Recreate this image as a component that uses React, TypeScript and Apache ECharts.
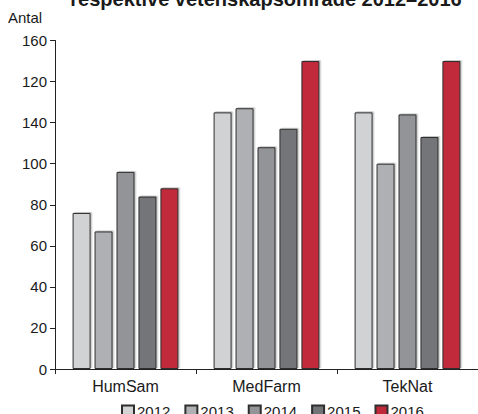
import React, { useEffect, useRef } from "react";
import * as echarts from "echarts";

const categories = ["HumSam", "MedFarm", "TekNat"];
const years = ["2012", "2013", "2014", "2015", "2016"];
const values2012 = [76, 125, 125];
const values2013 = [67, 127, 100];
const values2014 = [96, 108, 124];
const values2015 = [84, 117, 113];
const values2016 = [88, 150, 150];
const seriesValues = [values2012, values2013, values2014, values2015, values2016];
const yTickLabels = ["0", "20", "40", "60", "80", "100", "140", "120", "160"];
const colors = ["#d1d2d4", "#afb0b3", "#929497", "#737478", "#c0293a"];
const titleText = "respektive vetenskapsområde 2012–2016";
const yName = "Antal";

const FONT = "'Liberation Sans', Arial, Helvetica, sans-serif";

export default function App() {
  const ref = useRef<HTMLDivElement>(null);
  useEffect(() => {
    if (!ref.current) return;
    const chart = echarts.init(ref.current, null, { renderer: "svg" });
    chart.setOption({
      animation: false,
      textStyle: { fontFamily: FONT },
      grid: { left: 55, top: 40.5, bottom: 45, right: -7 },
      graphic: [
        {
          type: "text",
          x: 266,
          y: 9,
          style: {
            text: titleText,
            font: `bold 20px ${FONT}`,
            fill: "#1a1a1a",
            textAlign: "center",
            textVerticalAlign: "bottom",
          },
        },
        {
          type: "text",
          x: 8,
          y: 17,
          style: {
            text: yName,
            font: `15px ${FONT}`,
            fill: "#1a1a1a",
            textAlign: "left",
            textVerticalAlign: "middle",
          },
        },
      ],
      legend: {
        left: 121,
        top: 404,
        padding: 0,
        itemWidth: 12,
        itemHeight: 12,
        itemGap: 14,
        icon: "rect",
        textStyle: { fontSize: 15, color: "#1a1a1a", padding: [0, 0, 0, -2] },
        data: years,
      },
      xAxis: {
        type: "category",
        data: categories,
        axisLine: { lineStyle: { color: "#222", width: 1 } },
        axisTick: { show: true, length: 5, lineStyle: { color: "#222" } },
        axisLabel: { fontSize: 16, color: "#1a1a1a", margin: 9 },
      },
      yAxis: {
        type: "value",
        min: 0,
        max: 160,
        interval: 20,
        splitLine: { show: false },
        axisLine: { show: true, lineStyle: { color: "#222", width: 1 } },
        axisTick: { show: true, length: 5, lineStyle: { color: "#222" } },
        axisLabel: {
          fontSize: 15,
          color: "#1a1a1a",
          margin: 8,
          formatter: (v: number) => yTickLabels[Math.round(v / 20)] ?? "",
        },
      },
      series: years.map((y, i) => ({
        name: y,
        type: "bar",
        data: seriesValues[i],
        barWidth: 18,
        barGap: "22%",
        itemStyle: {
          color: colors[i],
          borderColor: "#2e2e2e",
          borderWidth: 1,
          shadowColor: "rgba(0,0,0,0.22)",
          shadowBlur: 0,
          shadowOffsetX: 1.5,
          shadowOffsetY: -1,
        },
      })),
    });
    return () => chart.dispose();
  }, []);
  return <div ref={ref} style={{ width: 478, height: 414, position: "absolute", left: 0, top: 0 }} />;
}
